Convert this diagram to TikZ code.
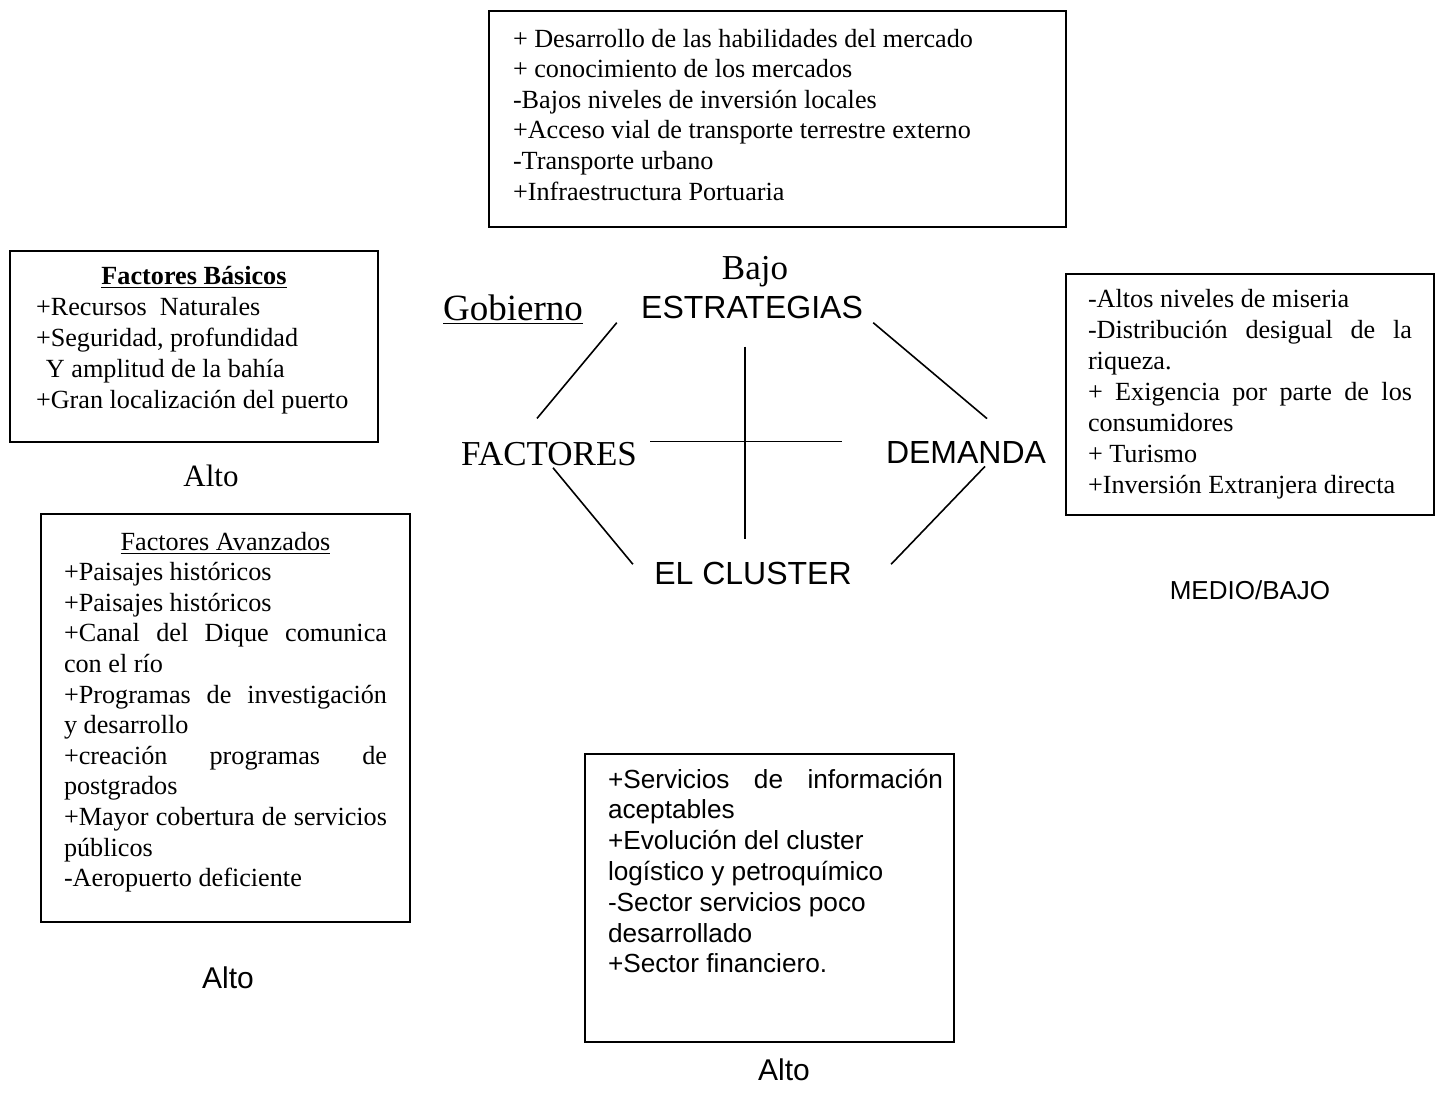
\documentclass[tikz,border=0pt]{standalone}
\usepackage{fontspec}
\setmainfont{Liberation Serif}
\setsansfont{Liberation Sans}
\usetikzlibrary{calc}

\newcommand\fullline[2][\linewidth]{\makebox[#1][s]{#2}}

\begin{document}
\begin{tikzpicture}[x=0.5pt,y=-0.5pt,
    infobox/.style={draw,line width=1pt,anchor=north west,align=left,
      inner xsep=11.5pt,inner ysep=8pt,text height=9pt,
      execute at begin node={\spaceskip=0pt\xspaceskip=0pt\relax},
      font=\fontsize{13.1}{15.3}\selectfont},
    sansbox/.style={infobox,font=\sffamily\fontsize{13.1}{15.4}\selectfont},
    lbl/.style={anchor=base,inner sep=0pt},
    pole/.style={lbl,font=\sffamily\fontsize{16}{19}\selectfont},
    serlbl/.style={lbl,font=\fontsize{17.5}{20}\selectfont},
    rating/.style={lbl,font=\sffamily\fontsize{15}{18}\selectfont},
    link/.style={line width=0.8pt}]
    \useasboundingbox (0,0) rectangle (1441,1109);

    % the diamond
    \node[serlbl] (bajo) at (755,279) {Bajo};
    \node[pole]   (estr) at (752,318) {ESTRATEGIAS};
    \node[serlbl,font=\fontsize{18.5}{20}\selectfont] (gob) at (513,320) {\underline{Gobierno}};
    \node[serlbl] (fact) at (549,465) {FACTORES};
    \node[pole]   (dem)  at (966,463) {DEMANDA};
    \node[pole]   (clus) at (753,584) {EL CLUSTER};

    \draw[link] ($(estr.south west)+(-24,4)$) -- ($(fact.north)+(-12,-23)$);
    \draw[link] ($(estr.south east)+(10,4)$) -- ($(dem.north)+(21,-22)$);
    \draw[link] ($(fact.south)+(4,2)$) -- ($(clus.north west)+(-21,3)$);
    \draw[link] ($(dem.south)+(19,3)$) -- ($(clus.north east)+(39,3)$);

    % the cross
    \coordinate (vt) at ($(estr.south)+(-7,28)$);
    \coordinate (vb) at ($(clus.north)+(0,-22)$);
    \coordinate (hl) at ($(fact.east)+(13,-12)$);
    \coordinate (hr) at ($(dem.west)+(-44,0)$);
    \draw[link] (vt) -- (vt |- vb);
    \draw[link] (hl) -- (hl -| hr);

    % boxes
    \node[infobox] (mercado) at (488,10)
      [inner xsep=12pt,inner ysep=9pt,text width=264.5pt,text depth=81pt]
      {+ Desarrollo de las habilidades del mercado\\
       + conocimiento de los mercados\\
       -Bajos niveles de inversión locales\\
       +Acceso vial de transporte terrestre externo\\
       -Transporte urbano\\
       +Infraestructura Portuaria};
    \node[infobox] (basicos) at (9,250)
      [inner xsep=13pt,inner ysep=7.5pt,text width=158pt,text depth=71.5pt,
       font=\fontsize{13.1}{15.5}\selectfont]
      {\makebox[\linewidth]{\textbf{\underline{Factores Básicos}}}\\
       +Recursos\ \ Naturales\\
       +Seguridad, profundidad\\
       \hspace*{5pt}Y amplitud de la bahía\\
       +Gran localización del puerto};
    \node[infobox] (demanda) at (1065,273)
      [inner xsep=11pt,inner ysep=7.5pt,text width=162pt,text depth=96.5pt,
       font=\fontsize{13.1}{15.5}\selectfont]
      {-Altos niveles de miseria\\
       \fullline{-Distribución desigual de la}\\
       riqueza.\\
       \fullline{+ Exigencia por parte de los}\\
       consumidores\\
       + Turismo\\
       +Inversión Extranjera directa};
    \node[infobox] (avanzados) at (40,513)
      [inner ysep=9pt,text width=161.5pt,text depth=177pt]
      {\makebox[\linewidth]{\underline{Factores Avanzados}}\\
       +Paisajes históricos\\
       +Paisajes históricos\\
       \fullline{+Canal del Dique comunica}\\
       con el río\\
       \fullline{+Programas de investigación}\\
       y desarrollo\\
       \fullline{+creación programas de}\\
       postgrados\\
       \fullline{+Mayor cobertura de servicios}\\
       públicos\\
       -Aeropuerto deficiente};
    \node[sansbox] (cluster) at (584,753)
      [text width=161.5pt,text depth=119pt]
      {\fullline[167.5pt]{+Servicios de información}\\
       aceptables\\
       +Evolución del cluster\\
       logístico y petroquímico\\
       -Sector servicios poco\\
       desarrollado\\
       +Sector financiero.};

    % levels
    \node[serlbl,font=\fontsize{15.5}{18}\selectfont] (altobas) at (211,486) {Alto};
    \node[rating] (altoav)   at (228,988)  {Alto};
    \node[rating] (altoclus) at (784,1080) {Alto};
    \node[rating,font=\sffamily\fontsize{13}{15}\selectfont] (medio) at (1250,599) {MEDIO/BAJO};
\end{tikzpicture}
\end{document}
